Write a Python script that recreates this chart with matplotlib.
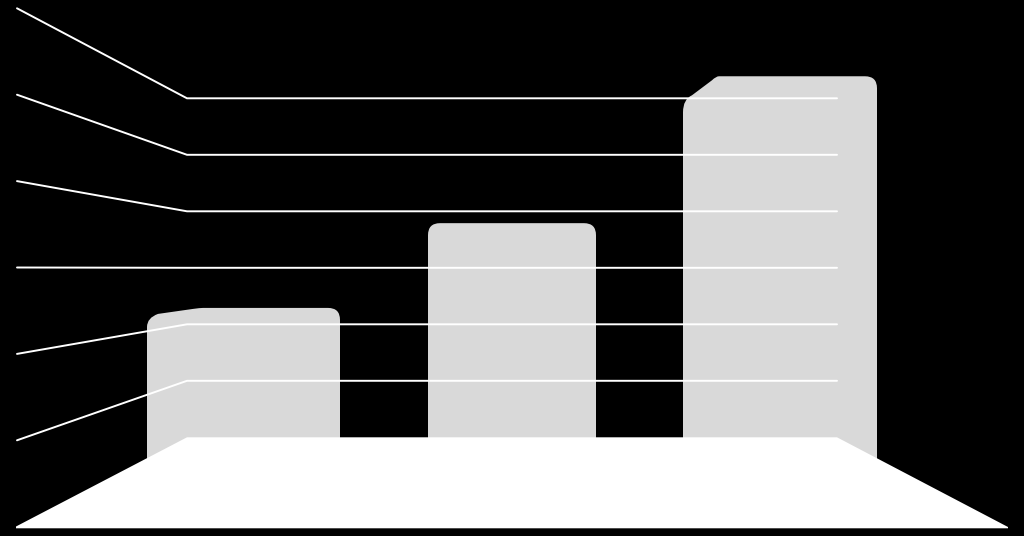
import matplotlib
matplotlib.use("Agg")
import matplotlib.pyplot as plt
from matplotlib.path import Path
from matplotlib.patches import PathPatch, Polygon

# values (no labels in it, gridlines taken as 1..6)
grid_values = [1, 2, 3, 4, 5, 6]
bar_values = [2.29, 3.79, 6.39]

# horizontal extents of each bar, in pixels
bar_left = [147, 428, 683]
bar_right = [340, 596, 877]
# top-left corner shape: (drop where curve starts, slant start dx, dy, slant end dx, dy, curve end dx)
corner = [(19, 11, 6, 46, 1, 56), (12, 0, 0, 0, 0, 12), (36, 9, 19, 29, 4, 36)]

BAR_COLOR = "#d9d9d9"
UNIT = 56.5  # pixels per unit on the back wall
BASE = 437.3  # pixel row of value 0
W, H = 1024, 536


def bar_path(left, right, value, shape, r=12):
    drop, x1, y1, x2, y2, xe = shape
    u = 1 / UNIT
    verts = [(left, -1), (left, value - drop * u)]
    codes = [Path.MOVETO, Path.LINETO]
    if x1:
        # rounded start of the slant, straight slant, rounded join to the top
        verts += [(left, value - (y1 + 4) * u), (left + x1, value - y1 * u)]
        codes += [Path.CURVE3, Path.CURVE3]
        verts += [(left + x2, value - y2 * u), (left + xe - 3, value), (left + xe, value)]
        codes += [Path.LINETO, Path.CURVE3, Path.CURVE3]
    else:
        verts += [(left, value), (left + xe, value)]
        codes += [Path.CURVE3, Path.CURVE3]
    verts += [(right - r, value), (right, value), (right, value - r * u), (right, -1), (left, -1)]
    codes += [Path.LINETO, Path.CURVE3, Path.CURVE3, Path.LINETO, Path.CLOSEPOLY]
    return Path(verts, codes)


def front(value):
    # gridline height where it reaches the front edge of the floor
    return (BASE - 526.7 + 86.4 * value) / UNIT


fig = plt.figure(figsize=(W / 100, H / 100), dpi=100, facecolor="black")
ax = fig.add_axes([0, 0, 1, 1])
ax.set_facecolor("black")
ax.set_xlim(0, W)
ax.set_ylim((BASE - H) / UNIT, BASE / UNIT)
ax.axis("off")

for left, right, value, shape in zip(bar_left, bar_right, bar_values, corner):
    ax.add_patch(PathPatch(bar_path(left, right, value, shape), fc=BAR_COLOR, ec="none", zorder=2))

for value in grid_values:
    ax.plot([17, 187, 837], [front(value), value, value], color="white", lw=1.4,
            solid_capstyle="round", solid_joinstyle="miter", zorder=3)

# floor
floor = [(187, 0), (837, 0), (1008, -89.7 / UNIT), (1008, -91 / UNIT), (16, -91 / UNIT), (16, -89.2 / UNIT)]
ax.add_patch(Polygon(floor, closed=True, fc="white", ec="none", zorder=4))

fig.savefig("out.png", dpi=100, facecolor="black")
